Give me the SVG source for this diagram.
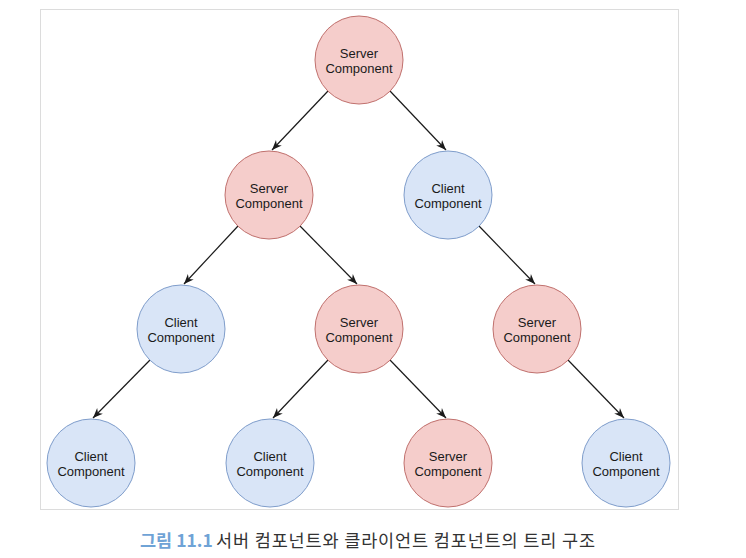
<svg xmlns="http://www.w3.org/2000/svg" width="746" height="558" viewBox="0 0 746 558">
  <style>
    .server circle { fill: #f5cdcb; stroke: #c0706d; stroke-width: 1; }
    .client circle { fill: #d9e5f7; stroke: #7f9dcb; stroke-width: 1; }
    .lbl { font-family: "Liberation Sans", Arial, Helvetica, sans-serif; font-size: 13px; fill: #1a1a1a; text-anchor: middle; }
    .edge { stroke: #1a1a1a; stroke-width: 1.2; fill: none; marker-end: url(#arrow); }
    .cap { font-family: "Noto Sans CJK KR", "Noto Sans", sans-serif; font-size: 17.5px; }
  </style>
  <defs>
    <marker id="arrow" viewBox="0 0 10 10" markerWidth="10" markerHeight="10" refX="10" refY="5" orient="auto" markerUnits="userSpaceOnUse">
      <path d="M0,1 L10,5 L0,9 L3,5 z" fill="#1a1a1a"/>
    </marker>
  </defs>
  <rect x="0" y="0" width="746" height="558" fill="#ffffff"/>
  <rect id="frame" x="40.5" y="9.5" width="638" height="500" fill="none" stroke="#dcdcdc" stroke-width="1"/>

  <g id="connectors">
    <line class="edge" x1="328" y1="91" x2="272" y2="150"/>
    <line class="edge" x1="390" y1="91" x2="446" y2="150"/>
    <line class="edge" x1="238" y1="226" x2="184" y2="284"/>
    <line class="edge" x1="300" y1="226" x2="357" y2="284"/>
    <line class="edge" x1="479" y1="226" x2="535" y2="284"/>
    <line class="edge" x1="150" y1="360" x2="93" y2="418"/>
    <line class="edge" x1="328" y1="360" x2="273" y2="418"/>
    <line class="edge" x1="390" y1="360" x2="446" y2="418"/>
    <line class="edge" x1="568" y1="360" x2="624" y2="418"/>
  </g>

  <g id="n-root" class="server">
    <circle cx="359" cy="60" r="44"/>
    <text class="lbl" x="359" y="58">Server</text>
    <text class="lbl" x="359" y="73">Component</text>
  </g>
  <g id="n-s2" class="server">
    <circle cx="269" cy="195" r="44"/>
    <text class="lbl" x="269" y="193">Server</text>
    <text class="lbl" x="269" y="208">Component</text>
  </g>
  <g id="n-c2" class="client">
    <circle cx="448" cy="195" r="44"/>
    <text class="lbl" x="448" y="193">Client</text>
    <text class="lbl" x="448" y="208">Component</text>
  </g>
  <g id="n-c3a" class="client">
    <circle cx="181" cy="329" r="44"/>
    <text class="lbl" x="181" y="327">Client</text>
    <text class="lbl" x="181" y="342">Component</text>
  </g>
  <g id="n-s3b" class="server">
    <circle cx="359" cy="329" r="44"/>
    <text class="lbl" x="359" y="327">Server</text>
    <text class="lbl" x="359" y="342">Component</text>
  </g>
  <g id="n-s3c" class="server">
    <circle cx="537" cy="329" r="44"/>
    <text class="lbl" x="537" y="327">Server</text>
    <text class="lbl" x="537" y="342">Component</text>
  </g>
  <g id="n-c4a" class="client">
    <circle cx="91" cy="463" r="44"/>
    <text class="lbl" x="91" y="461">Client</text>
    <text class="lbl" x="91" y="476">Component</text>
  </g>
  <g id="n-c4b" class="client">
    <circle cx="270" cy="463" r="44"/>
    <text class="lbl" x="270" y="461">Client</text>
    <text class="lbl" x="270" y="476">Component</text>
  </g>
  <g id="n-s4c" class="server">
    <circle cx="448" cy="463" r="44"/>
    <text class="lbl" x="448" y="461">Server</text>
    <text class="lbl" x="448" y="476">Component</text>
  </g>
  <g id="n-c4d" class="client">
    <circle cx="626" cy="463" r="44"/>
    <text class="lbl" x="626" y="461">Client</text>
    <text class="lbl" x="626" y="476">Component</text>
  </g>

  <text class="cap" x="140" y="547" fill="#6fa3d6" font-weight="bold" font-size="17">그림 11.1</text>
  <text class="cap" x="216" y="547" fill="#333333" textLength="379" lengthAdjust="spacing">서버 컴포넌트와 클라이언트 컴포넌트의 트리 구조</text>
</svg>
